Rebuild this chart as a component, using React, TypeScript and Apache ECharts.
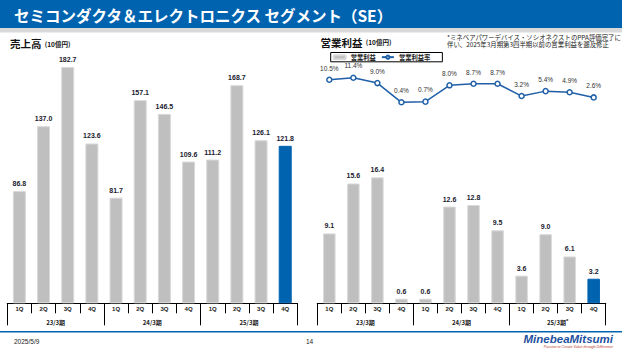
import React, { useEffect, useRef } from "react";
import * as echarts from "echarts";

const quarters = ["1Q", "2Q", "3Q", "4Q", "1Q", "2Q", "3Q", "4Q", "1Q", "2Q", "3Q", "4Q"];
const fiscalYears = ["23/3期", "24/3期", "25/3期"];
const fiscalYearsOI = ["23/3期", "24/3期", "25/3期*"];
const sales = [86.8, 137.0, 182.7, 123.6, 81.7, 157.1, 146.5, 109.6, 111.2, 168.7, 126.1, 121.8];
const opIncome = [9.1, 15.6, 16.4, 0.6, 0.6, 12.6, 12.8, 9.5, 3.6, 9.0, 6.1, 3.2];
const opMargin = [10.5, 11.4, 9.0, 0.4, 0.7, 8.0, 8.7, 8.7, 3.2, 5.4, 4.9, 2.6];

const BLUE = "#0063B0";
const GRAY = "#BFBFBF";
const JP = "'Noto Sans CJK JP', 'Liberation Sans', sans-serif";
const AR = "'Liberation Sans', Arial, sans-serif";

function highlightLast(arr: number[]) {
  return arr.map((v, i) =>
    i === arr.length - 1 ? { value: v, itemStyle: { color: BLUE, borderColor: BLUE } } : v
  );
}

export default function App() {
  const ref = useRef<HTMLDivElement>(null);
  useEffect(() => {
    if (!ref.current) return;
    const chart = echarts.init(ref.current, null, { renderer: "svg" });

    const qAxis = (gridIndex: number) => ({
      type: "category",
      gridIndex,
      data: quarters,
      position: "bottom",
      axisLine: { show: true, lineStyle: { color: "#000", width: 1.2 } },
      axisTick: { show: true, length: 10, lineStyle: { color: "#000", width: 1 } },
      axisLabel: { fontSize: 6, fontWeight: "bold", color: "#222", margin: 3, fontFamily: AR },
    });
    const yAxisCat = (gridIndex: number, data: string[]) => ({
      type: "category",
      gridIndex,
      data,
      position: "bottom",
      axisLine: { show: false },
      axisTick: { show: true, length: 22, lineStyle: { color: "#000", width: 1 } },
      axisLabel: {
        fontSize: 6,
        fontWeight: "bold",
        color: "#222",
        margin: 15,
        fontFamily: JP,
        formatter: (v: string) =>
          v.endsWith("*") ? "{n|" + v.slice(0, -1) + "}{s|*}" : "{n|" + v + "}",
        rich: {
          n: { fontSize: 6, fontWeight: "bold", color: "#222", lineHeight: 8, fontFamily: JP },
          s: { fontSize: 6, fontWeight: "bold", color: "#222", lineHeight: 8, verticalAlign: "top", fontFamily: AR },
        },
      },
    });

    const barLabel = {
      show: true,
      position: "top",
      distance: 4,
      fontSize: 7,
      fontWeight: "bold",
      color: "#1a1a2e",
      fontFamily: AR,
      formatter: (p: any) => Number(p.value).toFixed(1),
    };

    const option: any = {
      animation: false,
      backgroundColor: "#fff",
      grid: [
        { left: 7.3, width: 290, top: 44.7, height: 258.6 },
        { left: 317.3, width: 288.4, top: 149.7, height: 153.6 },
        { left: 317.3, width: 288.4, top: 76.4, height: 26.8 },
      ],
      xAxis: [
        qAxis(0),
        yAxisCat(0, fiscalYears),
        qAxis(1),
        yAxisCat(1, fiscalYearsOI),
        { type: "category", gridIndex: 2, data: quarters, show: false },
      ],
      yAxis: [
        { type: "value", gridIndex: 0, min: 0, max: 200, show: false },
        { type: "value", gridIndex: 1, min: 0, max: 20, show: false },
        { type: "value", gridIndex: 2, min: 0, max: 12, show: false },
      ],
      legend: {
        data: ["営業利益", "営業利益率"],
        left: 330.7,
        top: 52.5,
        orient: "horizontal",
        borderColor: "#000",
        borderWidth: 1,
        borderRadius: 0,
        padding: [1.5, 12, 1.5, 2],
        itemWidth: 12,
        itemHeight: 4,
        itemGap: 5,
        textStyle: { fontSize: 6.3, fontWeight: "bold", color: "#222", fontFamily: JP },
      },
      series: [
        {
          name: "売上高",
          type: "bar",
          xAxisIndex: 0,
          yAxisIndex: 0,
          data: highlightLast(sales),
          barWidth: 13,
          itemStyle: { color: GRAY, borderColor: "#D9D9D9", borderWidth: 1 },
          label: barLabel,
        },
        {
          name: "営業利益",
          type: "bar",
          xAxisIndex: 2,
          yAxisIndex: 1,
          data: highlightLast(opIncome),
          barWidth: 12.5,
          itemStyle: { color: GRAY, borderColor: "#D9D9D9", borderWidth: 1 },
          label: barLabel,
        },
        {
          name: "営業利益率",
          type: "line",
          xAxisIndex: 4,
          yAxisIndex: 2,
          data: opMargin,
          symbol: "circle",
          symbolSize: 5,
          lineStyle: { color: "#1F5FA8", width: 1.5 },
          itemStyle: { color: "#fff", borderColor: "#1F5FA8", borderWidth: 1.5 },
          label: {
            show: true,
            position: "top",
            distance: 5,
            fontSize: 6.5,
            color: "#333",
            fontFamily: AR,
            formatter: (p: any) => Number(p.value).toFixed(1) + "%",
          },
        },
      ],
      graphic: [
        { type: "rect", shape: { x: 0, y: 0, width: 622, height: 28 }, style: { fill: BLUE } },
        { type: "rect", shape: { x: 0, y: 28, width: 622, height: 4.5 }, style: { fill: "#D9D9D9" } },
        {
          type: "text",
          x: 14,
          y: 15,
          style: {
            text: "セミコンダクタ＆エレクトロニクス セグメント（SE）",
            fill: "#fff",
            fontSize: 15.5,
            fontWeight: "bold",
            fontFamily: JP,
            verticalAlign: "middle",
          },
        },
        {
          type: "text",
          x: 10,
          y: 43.5,
          style: {
            text: "{a|売上高} {b|(10億円)}",
            verticalAlign: "middle",
            rich: {
              a: { fontSize: 10.5, fontWeight: "bold", fill: "#111", fontFamily: JP },
              b: { fontSize: 6.5, fontWeight: "bold", fill: "#111", fontFamily: JP },
            },
          },
        },
        {
          type: "text",
          x: 320.5,
          y: 42,
          style: {
            text: "{a|営業利益} {b|(10億円)}",
            verticalAlign: "middle",
            rich: {
              a: { fontSize: 10.5, fontWeight: "bold", fill: "#111", fontFamily: JP },
              b: { fontSize: 6.5, fontWeight: "bold", fill: "#111", fontFamily: JP },
            },
          },
        },
        {
          type: "text",
          x: 447,
          y: 33.5,
          style: {
            text: "*ミネベアパワーデバイス・ソシオネクストのPPA評価完了に\n伴い、2025年3月期第3四半期以前の営業利益を遡及修正",
            fontSize: 6.4,
            lineHeight: 7.6,
            fill: "#222",
            fontFamily: JP,
          },
        },
        { type: "rect", shape: { x: 0, y: 331, width: 622, height: 1.6 }, style: { fill: BLUE } },
        {
          type: "text",
          x: 14,
          y: 341,
          style: { text: "2025/5/9", fontSize: 6.5, fill: "#222", fontFamily: AR, verticalAlign: "middle" },
        },
        {
          type: "text",
          x: 306,
          y: 341,
          style: { text: "14", fontSize: 6.5, fill: "#222", fontFamily: AR, verticalAlign: "middle" },
        },
        {
          type: "text",
          x: 613,
          y: 339,
          style: {
            text: "MinebeaMitsumi",
            fontSize: 11.5,
            fontWeight: "bold",
            fontStyle: "italic",
            fill: "#1E4FA0",
            fontFamily: AR,
            align: "right",
            verticalAlign: "middle",
          },
        },
        {
          type: "text",
          x: 613,
          y: 347,
          style: {
            text: "Passion to Create Value through Difference",
            fontSize: 3.6,
            fontStyle: "italic",
            fill: "#C0392B",
            fontFamily: AR,
            align: "right",
            verticalAlign: "middle",
          },
        },
      ],
    };
    chart.setOption(option);
    return () => chart.dispose();
  }, []);
  return (
    <div
      ref={ref}
      style={{ position: "fixed", left: 0, top: 0, width: 622, height: 350, background: "#fff" }}
    />
  );
}
